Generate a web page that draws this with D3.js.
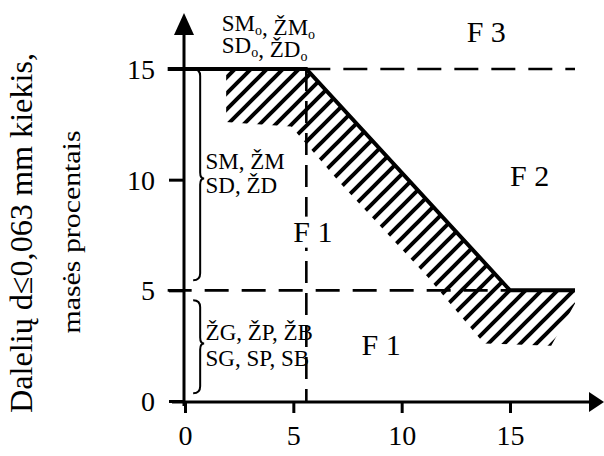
<!DOCTYPE html>
<html>
<head>
<meta charset="utf-8">
<script src="https://cdn.jsdelivr.net/npm/d3@7"></script>
<style>
  body { margin: 0; background: #fff; }
  svg { display: block; }
</style>
</head>
<body>
<svg id="chart" width="604" height="456"></svg>
<script>
var xTicks = [0, 5, 10, 15];
var yTicks = [0, 5, 10, 15];

// F1 / F2 boundary (solid thick line)
var edgeX = [-0.8, 5.6, 15, 18];
var edgeY = [15, 15, 5, 5];

// hatched band under the boundary
var hatchX = [1.9, 5.6, 15, 18, 18, 16.9, 13.8, 11.2, 7.2, 4.9, 1.9];
var hatchY = [15, 15, 5, 5, 4.4, 2.5, 2.6, 5.6, 9.8, 12.4, 12.6];

// dashed limits
var dashX1 = [5.6, -0.8, 5.6];
var dashY1 = [15, 5, 15];
var dashX2 = [18, 15, 5.6];
var dashY2 = [15, 5, 0];

var zoneText = ["F 3", "F 2", "F 1", "F 1"];
var zoneX = [13.0, 15.0, 5.0, 8.15];
var zoneY = [16.2, 9.7, 7.2, 2.1];

// "_o" = subscript o
var soilText = ["SM_o, ŽM_o", "SD_o, ŽD_o", "SM, ŽM", "SD, ŽD", "ŽG, ŽP, ŽB", "SG, SP, SB"];
var soilX = [1.7, 1.7, 0.95, 0.95, 0.95, 0.95];
var soilY = [16.72, 15.72, 10.5, 9.4, 2.75, 1.6];

var braceTop = [15, 4.55];
var braceMid = [10.05, 2.6];
var braceBot = [5.45, 0.35];
var braceX = 0.7;

var yTitle = ["Dalelių d≤0,063 mm kiekis,", "masės procentais"];

var serif = "'Liberation Serif'";
var svg = d3.select("#chart");

var x = d3.scaleLinear().domain([0, 15]).range([185, 510]);
var y = d3.scaleLinear().domain([0, 15]).range([401, 69]);

var defs = svg.append("defs");
var pat = defs.append("pattern")
    .attr("id", "hatch")
    .attr("patternUnits", "userSpaceOnUse")
    .attr("width", 16).attr("height", 16);
pat.append("path")
    .attr("d", "M0,16 L16,0 M-4,4 L4,-4 M12,20 L20,12")
    .attr("stroke", "#000").attr("stroke-width", 4);

var hatchPts = hatchX.map(function(d, i) { return [x(d), y(hatchY[i])]; });
svg.append("path")
    .attr("d", d3.line()(hatchPts) + "Z")
    .attr("fill", "url(#hatch)");

// dashed lines
for (var i = 0; i < dashX1.length; i++) {
  svg.append("line")
      .attr("x1", x(dashX1[i])).attr("y1", y(dashY1[i]))
      .attr("x2", x(dashX2[i])).attr("y2", y(dashY2[i]))
      .attr("stroke", "#000").attr("stroke-width", 2.6)
      .attr("stroke-dasharray", i == 2 ? "22,10" : "24,13");
}

// boundary
var line = d3.line()
    .x(function(d, i) { return x(d); })
    .y(function(d, i) { return y(edgeY[i]); });
svg.append("path")
    .datum(edgeX)
    .attr("d", line)
    .attr("fill", "none")
    .attr("stroke", "#000")
    .attr("stroke-width", 4);

// axes
var yAxis = svg.append("g")
    .attr("transform", "translate(184,0)")
    .call(d3.axisLeft(y).tickValues(yTicks).tickSize(15).tickPadding(14));
var xAxis = svg.append("g")
    .attr("transform", "translate(0,402)")
    .call(d3.axisBottom(x).tickValues(xTicks).tickSize(11).tickPadding(12));

[yAxis, xAxis].forEach(function(g) {
  g.attr("font-family", null).attr("font-size", null);
  g.select(".domain").remove();
  g.selectAll(".tick line").attr("stroke", "#000").attr("stroke-width", 3);
  g.selectAll(".tick text")
      .attr("fill", "#000")
      .style("font-family", serif)
      .style("font-size", "28px");
});
yAxis.selectAll(".tick text").attr("dy", "0.34em");

svg.append("line")
    .attr("x1", 184).attr("y1", 406).attr("x2", 184).attr("y2", 30)
    .attr("stroke", "#000").attr("stroke-width", 3);
svg.append("path")
    .attr("d", "M184,13 L174,35 L194,35 Z");
svg.append("line")
    .attr("x1", 172).attr("y1", 402).attr("x2", 592).attr("y2", 402)
    .attr("stroke", "#000").attr("stroke-width", 3);
svg.append("path")
    .attr("d", "M604,402 L589,392 L589,412 Z");

// braces
for (var b = 0; b < braceTop.length; b++) {
  var bx = x(braceX), t = y(braceTop[b]), m = y(braceMid[b]), e = y(braceBot[b]);
  var p = d3.path();
  p.moveTo(bx - 7, t);
  p.quadraticCurveTo(bx, t, bx, t + 7);
  p.lineTo(bx, m - 6);
  p.quadraticCurveTo(bx, m, bx + 4, m);
  p.quadraticCurveTo(bx, m, bx, m + 6);
  p.lineTo(bx, e - 7);
  p.quadraticCurveTo(bx, e, bx - 7, e);
  svg.append("path")
      .attr("d", p.toString())
      .attr("fill", "none").attr("stroke", "#000").attr("stroke-width", 2);
}

// zone labels, with a white box that breaks the dashed line
var zones = svg.selectAll(".zone")
    .data(zoneText)
    .enter().append("g")
    .attr("class", "zone");
zones.append("rect").attr("fill", "#fff");
zones.append("text")
    .attr("x", function(d, i) { return x(zoneX[i]); })
    .attr("y", function(d, i) { return y(zoneY[i]); })
    .style("font-family", serif)
    .style("font-size", "30px")
    .text(function(d) { return d; });
zones.each(function() {
  var g = d3.select(this);
  var bb = g.select("text").node().getBBox();
  g.select("rect")
      .attr("x", bb.x - 2).attr("y", bb.y + 2)
      .attr("width", bb.width + 4).attr("height", bb.height - 2);
});

// soil group labels
soilText.forEach(function(s, i) {
  var txt = svg.append("text")
      .attr("x", x(soilX[i]))
      .attr("y", y(soilY[i]))
      .style("font-family", serif)
      .style("font-size", "23px");
  s.split("_o").forEach(function(part, j, arr) {
    txt.append("tspan").text(part);
    if (j < arr.length - 1) {
      txt.append("tspan").style("font-size", "14px").attr("dy", 4).text("o");
      txt.append("tspan").attr("dy", -4).text("");
    }
  });
});

// y title
svg.append("text")
    .attr("transform", "translate(32,233) rotate(-90)")
    .attr("text-anchor", "middle")
    .style("font-family", serif)
    .style("font-size", "32px")
    .attr("textLength", 360)
    .attr("lengthAdjust", "spacingAndGlyphs")
    .text(yTitle[0]);
svg.append("text")
    .attr("transform", "translate(80,232) rotate(-90)")
    .attr("text-anchor", "middle")
    .style("font-family", serif)
    .style("font-size", "26px")
    .attr("textLength", 203)
    .attr("lengthAdjust", "spacingAndGlyphs")
    .text(yTitle[1]);
</script>
</body>
</html>
